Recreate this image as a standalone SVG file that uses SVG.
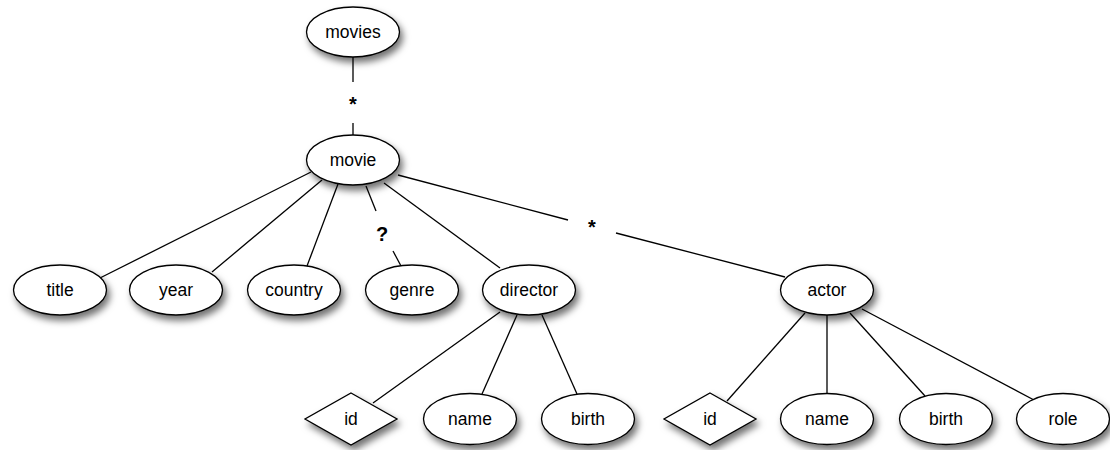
<svg xmlns="http://www.w3.org/2000/svg" width="1110" height="450" viewBox="0 0 1110 450">
<defs>
<filter id="sh" x="-30%" y="-30%" width="170%" height="190%">
<feDropShadow dx="3" dy="5" stdDeviation="3.5" flood-color="#000" flood-opacity="0.55"/>
</filter>
</defs>
<style>
.n ellipse,.n polygon{fill:#fff;stroke:#000;stroke-width:1.3;filter:url(#sh)}
.n text{font-family:"Liberation Sans",Arial,sans-serif;font-size:17.5px;text-anchor:middle;fill:#000}
.c line{stroke:#000;stroke-width:1.3}
.lbl{font-family:"Liberation Sans",Arial,sans-serif;font-size:20px;font-weight:bold;text-anchor:middle;fill:#000}
</style>
<g id="connectors" class="c">
<line x1="353" y1="57" x2="353" y2="82"/>
<line x1="353" y1="123" x2="353" y2="136"/>
<line x1="311" y1="172" x2="96" y2="280"/>
<line x1="322" y1="180" x2="212" y2="272"/>
<line x1="338" y1="184" x2="307" y2="266"/>
<line x1="366" y1="186" x2="376" y2="211"/>
<line x1="393" y1="251" x2="401" y2="266"/>
<line x1="384" y1="183" x2="500" y2="268"/>
<line x1="398" y1="175" x2="568" y2="220"/>
<line x1="616" y1="233" x2="785" y2="277"/>
<line x1="500" y1="312" x2="373" y2="403"/>
<line x1="517" y1="315" x2="482" y2="394"/>
<line x1="542" y1="315" x2="577" y2="394"/>
<line x1="805" y1="313" x2="727" y2="401"/>
<line x1="827" y1="315" x2="827" y2="393"/>
<line x1="850" y1="313" x2="925" y2="396"/>
<line x1="862" y1="309" x2="1034" y2="400"/>
<text class="lbl" x="353" y="111">*</text>
<text class="lbl" x="592" y="234">*</text>
<text class="lbl" x="382" y="241">?</text>
</g>
<g id="movies" class="n"><ellipse cx="353" cy="32" rx="46.5" ry="25"/><text x="353" y="38">movies</text></g>
<g id="movie" class="n"><ellipse cx="353" cy="160" rx="46.5" ry="25"/><text x="353" y="166">movie</text></g>
<g id="title" class="n"><ellipse cx="60" cy="290" rx="46.5" ry="25"/><text x="60" y="296">title</text></g>
<g id="year" class="n"><ellipse cx="176" cy="290" rx="46.5" ry="25"/><text x="176" y="296">year</text></g>
<g id="country" class="n"><ellipse cx="294" cy="290" rx="46.5" ry="25"/><text x="294" y="296">country</text></g>
<g id="genre" class="n"><ellipse cx="412" cy="290" rx="46.5" ry="25"/><text x="412" y="296">genre</text></g>
<g id="director" class="n"><ellipse cx="529" cy="290" rx="46.5" ry="25"/><text x="529" y="296">director</text></g>
<g id="actor" class="n"><ellipse cx="827" cy="290" rx="46.5" ry="25"/><text x="827" y="296">actor</text></g>
<g id="director-id" class="n"><polygon points="351,393 397,419 351,445 305,419"/><text x="351" y="425">id</text></g>
<g id="director-name" class="n"><ellipse cx="470" cy="419" rx="46.5" ry="25.5"/><text x="470" y="425">name</text></g>
<g id="director-birth" class="n"><ellipse cx="588" cy="419" rx="46.5" ry="25.5"/><text x="588" y="425">birth</text></g>
<g id="actor-id" class="n"><polygon points="710,393 756,419 710,445 664,419"/><text x="710" y="425">id</text></g>
<g id="actor-name" class="n"><ellipse cx="827" cy="419" rx="46.5" ry="25.5"/><text x="827" y="425">name</text></g>
<g id="actor-birth" class="n"><ellipse cx="946" cy="419" rx="46.5" ry="25.5"/><text x="946" y="425">birth</text></g>
<g id="actor-role" class="n"><ellipse cx="1063" cy="419" rx="46.5" ry="25.5"/><text x="1063" y="425">role</text></g>
</svg>
